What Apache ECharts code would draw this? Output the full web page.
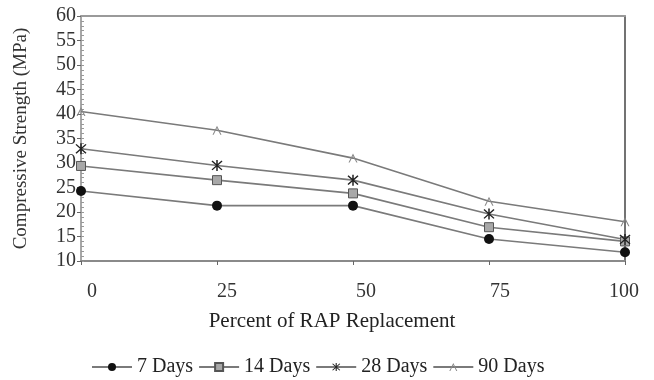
<!DOCTYPE html>
<html>
<head>
<meta charset="utf-8">
<script src="https://cdn.jsdelivr.net/npm/echarts@6/dist/echarts.min.js"></script>
<style>
html,body{margin:0;padding:0;background:#fff;}
#chart{width:654px;height:380px;}
</style>
</head>
<body>
<div id="chart"></div>
<script>
// RAP replacement levels (%) and compressive strength (MPa) by curing age
const rapPercent = [0, 25, 50, 75, 100];
const days7  = [24.3, 21.3, 21.3, 14.5, 11.8];
const days14 = [29.4, 26.5, 23.8, 16.9, 14.0];
const days28 = [32.9, 29.5, 26.5, 19.6, 14.4];
const days90 = [40.5, 36.7, 31.0, 22.2, 18.0];
const seriesNames = ['7 Days', '14 Days', '28 Days', '90 Days'];
const xTicks = [0, 25, 50, 75, 100];
const yRange = [10, 60];

const FONT = '"Liberation Serif", "DejaVu Serif", serif';
const LINE = '#7a7a7a';

// horizontal nudge (px) of each x tick label
const xLabelShift = [11, 10, 13, 11, -1];
const xRich = {};
xLabelShift.forEach((s, i) => {
  xRich['t' + i] = {
    fontFamily: FONT, fontSize: 20, color: '#333',
    padding: s >= 0 ? [0, 0, 0, 2 * s] : [0, -2 * s, 0, 0]
  };
});

const asterisk = 'path://M4.4 0L5.6 0L5.6 10L4.4 10Z M0.6 1.4L1.4 0.6L9.4 8.6L8.6 9.4Z M8.6 0.6L9.4 1.4L1.4 9.4L0.6 8.6Z';
const caret = 'path://M0 10L5 0L10 10L8.7 10L5 2.6L1.3 10Z';

function pairs(vals) { return rapPercent.map((x, i) => [x, vals[i]]); }

function mk(name, vals, symbol, size, fill, border) {
  return {
    name: name, type: 'line', data: pairs(vals),
    xAxisIndex: 0, yAxisIndex: 0,
    symbol: symbol, symbolSize: size,
    lineStyle: { color: LINE, width: 1.6 },
    itemStyle: { color: fill, borderColor: border, borderWidth: border ? 1 : 0 },
    emphasis: { disabled: true },
    animation: false
  };
}

const chart = echarts.init(document.getElementById('chart'), null, { renderer: 'canvas' });
chart.setOption({
  backgroundColor: '#fff',
  animation: false,
  grid: { left: 81, right: 29, top: 16, bottom: 119 },
  legend: {
    top: 352, left: 86,
    itemWidth: 40, itemHeight: 10, itemGap: 5,
    textStyle: { fontFamily: FONT, fontSize: 20, color: '#222' },
    data: seriesNames
  },
  xAxis: [{
    type: 'value', min: 0, max: 100, interval: 25,
    name: 'Percent of RAP Replacement', nameLocation: 'middle', nameGap: 50,
    nameTextStyle: { fontFamily: FONT, fontSize: 21, color: '#222', padding: [0, 42, 0, 0] },
    axisLine: { lineStyle: { color: '#8a8a8a', width: 2 } },
    axisTick: { show: true, length: 4, lineStyle: { color: '#666' } },
    axisLabel: {
      margin: 21, customValues: xTicks,
      formatter: v => '{t' + xTicks.indexOf(v) + '|' + v + '}',
      rich: xRich
    },
    splitLine: { show: false }
  }, {
    type: 'value', position: 'top', min: 0, max: 100,
    axisLine: { show: true, onZero: false, lineStyle: { color: '#9a9a9a', width: 2 } },
    axisTick: { show: false }, axisLabel: { show: false }, splitLine: { show: false }
  }],
  yAxis: [{
    type: 'value', min: yRange[0], max: yRange[1], interval: 5,
    name: 'Compressive Strength (MPa)', nameLocation: 'middle', nameGap: 50,
    nameTextStyle: { fontFamily: FONT, fontSize: 19, color: '#333' },
    axisLine: { show: true, lineStyle: { color: '#8a8a8a', width: 1.5 } },
    axisTick: { show: true, length: 4, lineStyle: { color: '#666' } },
    axisLabel: { fontFamily: FONT, fontSize: 20, color: '#333', margin: 5 },
    splitLine: { show: false }
  }, {
    type: 'value', position: 'left', min: yRange[0], max: yRange[1], interval: 1,
    axisLine: { show: false },
    axisTick: { show: true, inside: true, length: 3, lineStyle: { color: '#999' } },
    axisLabel: { show: false }, splitLine: { show: false }
  }, {
    type: 'value', position: 'right', min: yRange[0], max: yRange[1],
    axisLine: { show: true, lineStyle: { color: '#444', width: 1.5 } },
    axisTick: { show: false }, axisLabel: { show: false }, splitLine: { show: false }
  }],
  series: [
    mk(seriesNames[0], days7, 'circle', 10, '#111', null),
    mk(seriesNames[1], days14, 'rect', 9, '#a8a8a8', '#555'),
    mk(seriesNames[2], days28, asterisk, 11, '#222', null),
    mk(seriesNames[3], days90, caret, 9, '#888', null)
  ]
});
</script>
</body>
</html>
